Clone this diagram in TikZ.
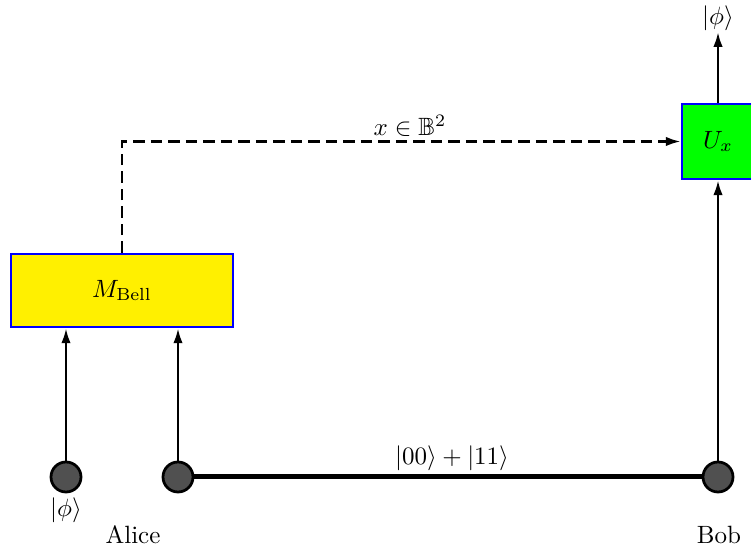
\documentclass[tikz,border=0pt]{standalone}
\usepackage{amssymb}
\usetikzlibrary{arrows.meta}
\definecolor{boxyellow}{RGB}{255,240,0}
\definecolor{boxgreen}{RGB}{0,255,0}
\definecolor{dotgray}{RGB}{80,80,80}
\begin{document}
\begin{tikzpicture}[x=0.4pt,y=-0.4pt,
  qubit/.style={circle,draw=black,line width=1.1pt,fill=dotgray,minimum size=12pt,inner sep=0pt},
  gatebox/.style={rectangle,draw=blue,line width=1pt,inner sep=0pt},
  wire/.style={line width=1pt,-{Latex[length=6pt,width=3.8pt]}},
  classical/.style={line width=1pt,dash pattern=on 4.5pt off 2.5pt,-{Latex[length=6pt,width=3.8pt]}},
  lbl/.style={inner sep=1pt}]
\useasboundingbox (0,0) rectangle (751,550);
\clip (0,0) rectangle (751,550);
\node[gatebox,fill=boxyellow,minimum width=88.8pt,minimum height=29.2pt] (mbell) at (122,290.5) {$M_{\mathrm{Bell}}$};
\node[gatebox,fill=boxgreen,minimum width=28.8pt,minimum height=30pt] (ux) at (718,141.5) {$U_x$};
\node[qubit] (a1) at (66,477) {};
\node[qubit] (a2) at (178,477) {};
\node[qubit] (b) at (718,477) {};
\coordinate (out) at (718,32);
\draw[line width=2pt] (a2) -- (b);
\draw[wire] (a1) -- (a1 |- mbell.south);
\draw[wire] (a2) -- (a2 |- mbell.south);
\draw[wire] (b) -- (ux.south);
\draw[wire] (ux.north) -- (out);
\draw[classical] (mbell.north) -- (mbell.north |- ux.west) -- (ux.west);
\node[lbl] (phiout) at (718,18) {$|\phi\rangle$};
\node[lbl] (xlbl) at (410,126) {$x \in \mathbb{B}^2$};
\node[lbl] (epr) at (452,458) {$|00\rangle + |11\rangle$};
\node[lbl] (phiin) at (66,510) {$|\phi\rangle$};
\node[lbl] (alice) at (133,535) {Alice};
\node[lbl] (bob) at (719,535) {Bob};
\end{tikzpicture}
\end{document}
